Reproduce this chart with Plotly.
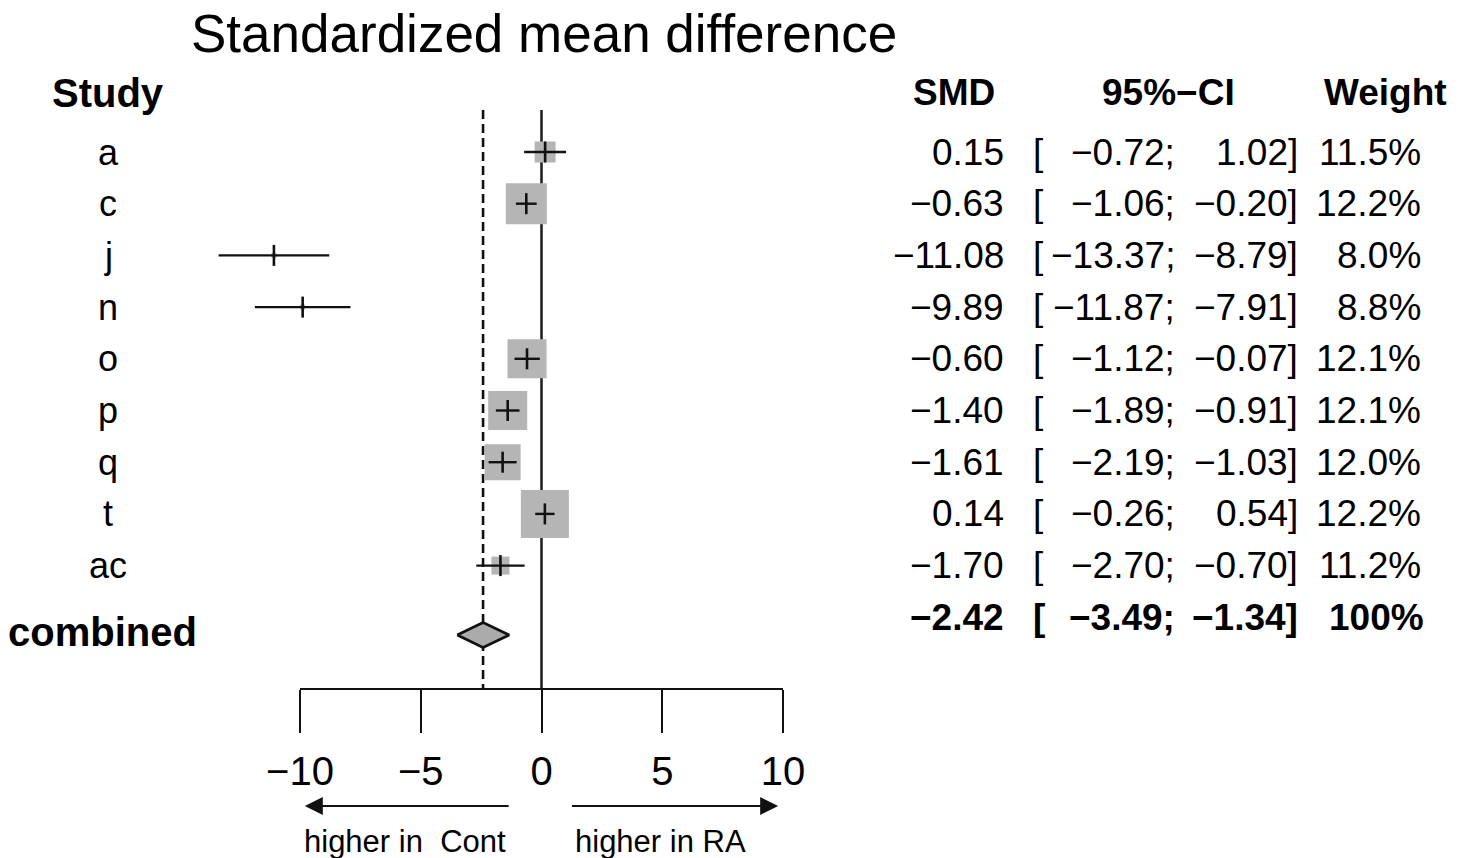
import plotly.graph_objects as go

# ---------------- data ----------------
studies = ["a", "c", "j", "n", "o", "p", "q", "t", "ac"]
smd = [0.15, -0.63, -11.08, -9.89, -0.60, -1.40, -1.61, 0.14, -1.70]
ci_low = [-0.72, -1.06, -13.37, -11.87, -1.12, -1.89, -2.19, -0.26, -2.70]
ci_high = [1.02, -0.20, -8.79, -7.91, -0.07, -0.91, -1.03, 0.54, -0.70]
weights = [11.5, 12.2, 8.0, 8.8, 12.1, 12.1, 12.0, 12.2, 11.2]
pooled_label = "combined"
pooled_smd = -2.42
pooled_low = -3.49
pooled_high = -1.34
pooled_weight = "100%"
tick_vals = [-10, -5, 0, 5, 10]

# ---------------- styles / layout constants ----------------
box_sizes = [21, 41, 5, 5, 39, 39, 36, 48, 18]   # px
W, H = 1465, 858
PX_M10, PX_P10 = 300, 783
PPU = (PX_P10 - PX_M10) / 20.0
x_min = -10 - PX_M10 / PPU
x_max = x_min + W / PPU
ROW0, ROW_STEP = 152, 51.7
rows = [ROW0 + i * ROW_STEP for i in range(len(studies))]
comb_text_y = ROW0 + len(studies) * ROW_STEP
comb_mark_y = 635
AXIS_Y = 689
LINE_TOP = 110
SANS = "Liberation Sans, Arial, sans-serif"
BOX_COLOR = "#b5b5b5"
INK = "#111111"


def fmt(v):
    return f"{v:.2f}".replace("-", "\u2212")


def px(xp):
    return xp / W


fig = go.Figure()

# reference lines
fig.add_trace(go.Scatter(x=[0, 0], y=[LINE_TOP, AXIS_Y], mode="lines",
                         line=dict(color="#222222", width=2.6), hoverinfo="skip"))
fig.add_trace(go.Scatter(x=[pooled_smd, pooled_smd], y=[LINE_TOP, AXIS_Y], mode="lines",
                         line=dict(color=INK, width=2.6, dash="9px,5px"), hoverinfo="skip"))

# study boxes
fig.add_trace(go.Scatter(x=smd, y=rows, mode="markers",
                         marker=dict(symbol="square", size=box_sizes, color=BOX_COLOR,
                                     opacity=1, line=dict(width=0)), hoverinfo="skip"))

# confidence intervals
cx, cy = [], []
for lo, hi, y in zip(ci_low, ci_high, rows):
    cx += [lo, hi, None]
    cy += [y, y, None]
fig.add_trace(go.Scatter(x=cx, y=cy, mode="lines", line=dict(color=INK, width=2.4),
                         hoverinfo="skip"))

# point estimate ticks
fig.add_trace(go.Scatter(x=smd, y=rows, mode="markers",
                         marker=dict(symbol="line-ns", size=15,
                                     line=dict(color=INK, width=2.6)), hoverinfo="skip"))

# pooled diamond
dh = 12.5
fig.add_trace(go.Scatter(x=[pooled_low, pooled_smd, pooled_high, pooled_smd, pooled_low],
                         y=[comb_mark_y, comb_mark_y - dh, comb_mark_y, comb_mark_y + dh, comb_mark_y],
                         mode="lines", fill="toself", fillcolor="#ababab",
                         line=dict(color=INK, width=2.6), hoverinfo="skip"))

# dummy trace for the tick axis
fig.add_trace(go.Scatter(x=[0], y=[0], xaxis="x2", yaxis="y", mode="markers",
                         marker=dict(opacity=0), hoverinfo="skip"))

ann = []


def text(xp, y, s, size, anchor="left", bold=False, family=SANS):
    if bold:
        s = f"<b>{s}</b>"
    ann.append(dict(x=px(xp), xref="paper", y=y, yref="y", text=s, showarrow=False,
                    xanchor=anchor, yanchor="middle",
                    font=dict(family=family, size=size, color="black")))


# title and headers
text(189, 33, "Standardized mean difference", 53)
text(50, 93, "Study", 40, bold=True)
text(954, 92, "SMD", 37, anchor="center", bold=True)
text(1168, 92, "95%\u2212CI", 37, anchor="center", bold=True)
text(1385, 92, "Weight", 37, anchor="center", bold=True)

# study rows
for s, m, lo, hi, w, y in zip(studies, smd, ci_low, ci_high, weights, rows):
    text(108, y, s, 36, anchor="center")
    text(1006, y, fmt(m), 37, anchor="right")
    text(1031, y, "[", 37, anchor="left")
    text(1177, y, fmt(lo) + ";", 37, anchor="right")
    text(1300, y, fmt(hi) + "]", 37, anchor="right")
    text(1423, y, f"{w:.1f}%", 37, anchor="right")

# combined row
text(6, 632, pooled_label, 40, bold=True)
text(1006, comb_text_y, fmt(pooled_smd), 37, anchor="right", bold=True)
text(1031, comb_text_y, "[", 37, anchor="left", bold=True)
text(1177, comb_text_y, fmt(pooled_low) + ";", 37, anchor="right", bold=True)
text(1300, comb_text_y, fmt(pooled_high) + "]", 37, anchor="right", bold=True)
text(1426, comb_text_y, pooled_weight, 37, anchor="right", bold=True)

# direction arrows
ARROW_Y = 806
for head, tail in [(-9.8, -1.3), (9.8, 1.2)]:
    ann.append(dict(x=head, y=ARROW_Y, xref="x", yref="y", ax=tail, ay=ARROW_Y,
                    axref="x", ayref="y", text="", showarrow=True, arrowhead=2,
                    arrowsize=1.8, arrowwidth=2, arrowcolor=INK))
text(302, 841, "higher in\u00a0\u00a0Cont", 31)
text(573, 841, "higher in RA", 31)

fig.update_layout(
    width=W, height=H,
    margin=dict(l=0, r=0, t=0, b=0, autoexpand=False),
    paper_bgcolor="white", plot_bgcolor="rgba(0,0,0,0)",
    showlegend=False,
    annotations=ann,
    xaxis=dict(range=[x_min, x_max], domain=[0, 1], visible=False, fixedrange=True,
               automargin=False),
    yaxis=dict(range=[H, 0], domain=[0, 1], visible=False, fixedrange=True,
               automargin=False),
    xaxis2=dict(range=[-10, 10], domain=[px(PX_M10), px(PX_P10)], anchor="free",
                position=1 - AXIS_Y / H, side="bottom", automargin=False,
                showline=True, linecolor=INK, linewidth=2.2,
                ticks="outside", ticklen=43, tickwidth=2.2, tickcolor=INK,
                tickvals=tick_vals, ticktext=[str(v).replace("-", "\u2212") for v in tick_vals],
                tickfont=dict(family=SANS, size=40, color="black"),
                ticklabelstandoff=4,
                showgrid=False, zeroline=False, fixedrange=True),
)

fig.write_html("out.html", config={"displayModeBar": False},
               post_script="document.body.style.margin='0';document.body.style.overflow='hidden';")
